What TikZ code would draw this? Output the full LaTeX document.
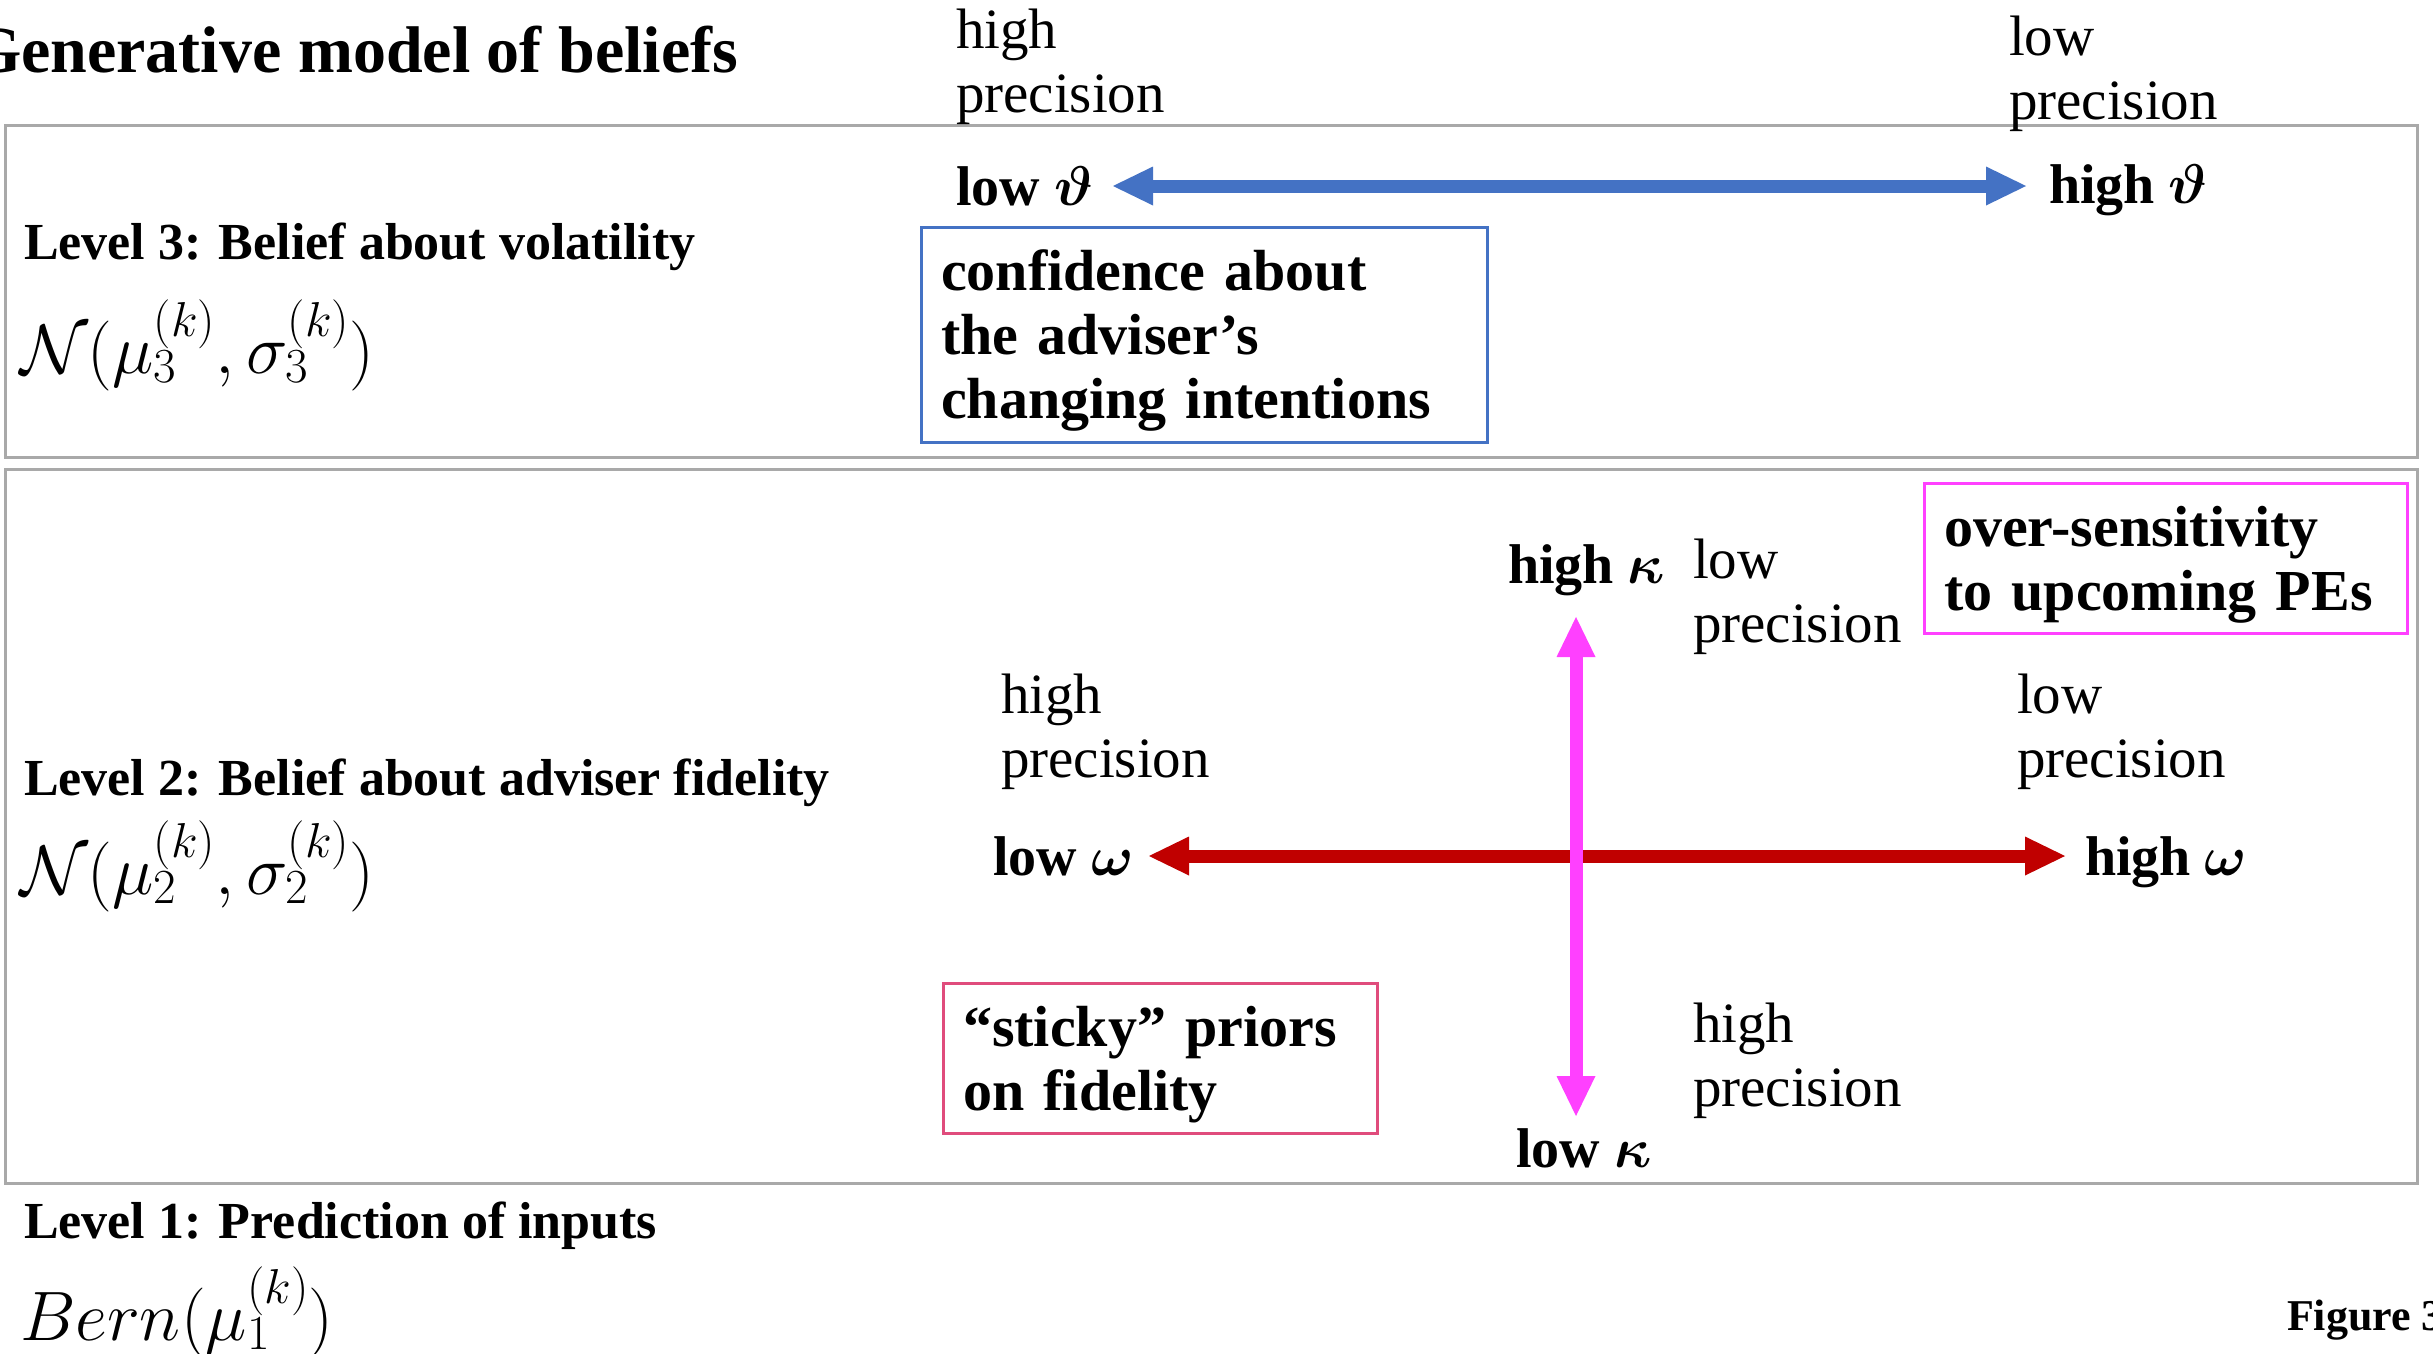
\RequirePackage{fix-cm}
\documentclass[tikz,border=0pt]{standalone}
\usepackage[no-math]{fontspec}
\setmainfont{Liberation Serif}
\usepackage{bm}
\usetikzlibrary{arrows.meta}
\definecolor{offblue}{HTML}{4472C4}
\definecolor{darkred}{HTML}{C00000}
\definecolor{brightmag}{HTML}{FF40FF}
\definecolor{crimsonpink}{HTML}{E04C7C}
\definecolor{framegray}{HTML}{A9A9A9}
\tikzset{
  every node/.style={inner sep=0pt, outer sep=0pt},
  levframe/.style={draw=framegray, line width=3pt, anchor=north west, minimum width=2412pt},
  titletext/.style={anchor=base east, font=\fontsize{66}{76}\selectfont\bfseries},
  lvl/.style={anchor=base west, font=\fontsize{52}{60}\selectfont\bfseries},
  prec/.style={anchor=base west, align=left, font=\fontsize{57}{64}\selectfont},
  greeklab/.style={anchor=base west, font=\fontsize{56}{64}\selectfont\bfseries},
  formula/.style={anchor=base west, font=\fontsize{70}{80}\selectfont},
  notebox/.style={anchor=north west, line width=3pt, align=left, inner xsep=20pt, inner ysep=0pt,
    font=\fontsize{58}{64}\selectfont\bfseries, execute at begin node={\rule{0pt}{53pt}}},
  dblarrow/.style={line width=13pt, {Triangle[length=40pt,width=39pt,line width=0pt]}-{Triangle[length=40pt,width=39pt,line width=0pt]}},
  figlab/.style={anchor=base west, font=\fontsize{44}{50}\selectfont\bfseries}
}
\begin{document}
\begin{tikzpicture}[x=1pt,y=-1pt]
\useasboundingbox (0,0) rectangle (2433,1354);
% title
\node[titletext] (title) at (738,73) {Generative model of beliefs};
% frames
\node[levframe, minimum height=332pt] (lev3box) at (5,125) {};
\node[levframe, minimum height=714pt] (lev2box) at (5,469) {};
% level labels and formulas
\node[lvl] (lev3) at (24,259) {Level 3: Belief about volatility};
\node[formula] (f3) at (20,373) {$\mathcal{N}(\mu_3^{(k)},\sigma_3^{(k)})$};
\node[lvl] (lev2) at (24,795) {Level 2: Belief about adviser fidelity};
\node[formula] (f2) at (20,894) {$\mathcal{N}(\mu_2^{(k)},\sigma_2^{(k)})$};
\node[lvl] (lev1) at (24,1238) {Level 1: Prediction of inputs};
\node[formula] (f1) at (20,1340) {$Bern(\mu_1^{(k)})$};
\node[figlab] (fig) at (2287,1330) {Figure 3};
% precision labels (anchor = baseline of the last line)
\node[prec] (p3l) at (956,112) {high\\precision};
\node[prec] (p3r) at (2009,119) {low\\precision};
\node[prec] (p2t) at (1693,642) {low\\precision};
\node[prec] (p2l) at (1001,777) {high\\precision};
\node[prec] (p2r) at (2017,777) {low\\precision};
\node[prec] (p2b) at (1693,1106) {high\\precision};
% greek labels
\node[greeklab] (lowtheta) at (956,205) {low $\bm{\vartheta}$};
\node[greeklab] (hightheta) at (2049,203) {high $\bm{\vartheta}$};
\node[greeklab] (highkappa) at (1508,583) {high $\bm{\kappa}$};
\node[greeklab] (lowkappa) at (1516,1167) {low $\bm{\kappa}$};
\node[greeklab] (lowomega) at (993,875) {low $\bm{\omega}$};
\node[greeklab] (highomega) at (2085,875) {high $\bm{\omega}$};
% note boxes
\node[notebox, draw=offblue, minimum width=566pt, minimum height=215pt, text width=526pt] (confbox) at (921,227) {confidence about\\the adviser’s\\changing intentions};
\node[notebox, draw=brightmag, minimum width=483pt, minimum height=150pt, text width=443pt] (overbox) at (1924,483) {over-sensitivity\\to upcoming PEs};
\node[notebox, draw=crimsonpink, minimum width=434pt, minimum height=150pt, text width=394pt] (stickybox) at (943,983) {“sticky” priors\\on fidelity};
% arrows
\coordinate (t1) at (1113,186);
\coordinate (t2) at (2026,186);
\coordinate (w1) at (1149,856);
\coordinate (w2) at (2065,856);
\coordinate (k1) at (1576,617);
\coordinate (k2) at (1576,1116);
\draw[dblarrow, offblue] (t1) -- (t2);
\draw[dblarrow, darkred] (w1) -- (w2);
\draw[dblarrow, brightmag] (k1) -- (k2);
\end{tikzpicture}
\end{document}
